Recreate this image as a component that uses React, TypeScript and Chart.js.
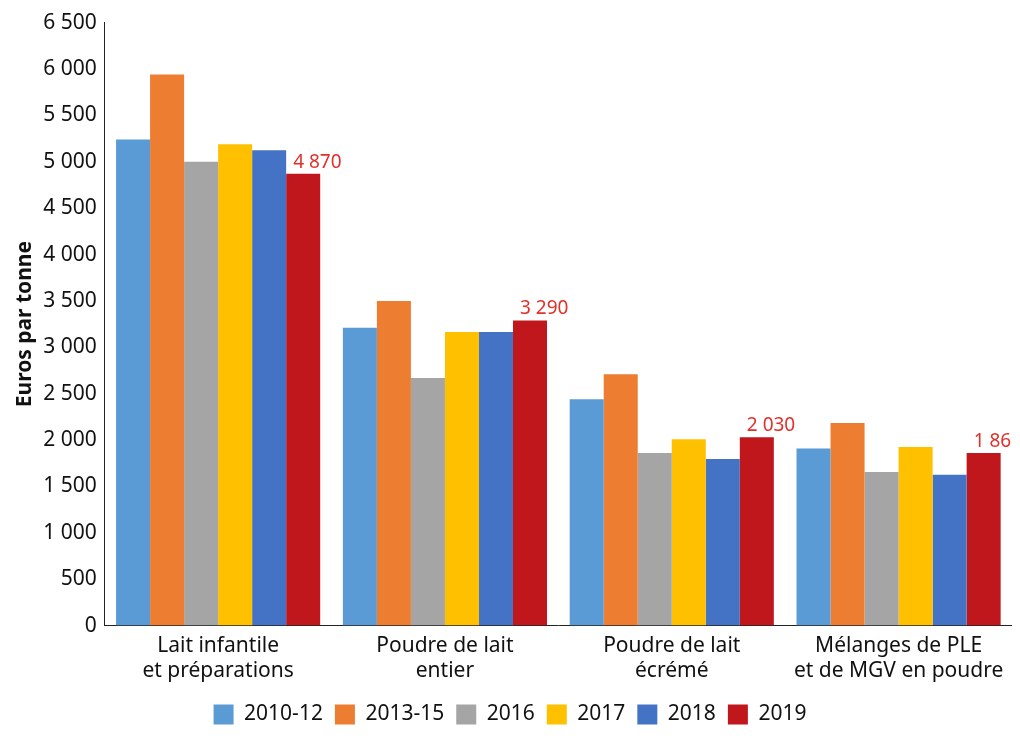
import React, { useEffect, useRef } from "react";
import { Chart, registerables } from "chart.js";
Chart.register(...registerables);

const categories = [["Lait infantile", "et préparations"], ["Poudre de lait", "entier"], ["Poudre de lait", "écrémé"], ["Mélanges de PLE", "et de MGV en poudre"]];
const seriesNames = ["2010-12", "2013-15", "2016", "2017", "2018", "2019"];
const colors = ["#5B9BD5", "#ED7D31", "#A5A5A5", "#FFC000", "#4472C4", "#C0171C"];
const v2010_12 = [5240, 3210, 2440, 1910];
const v2013_15 = [5940, 3500, 2710, 2185];
const v2016 = [5000, 2670, 1860, 1655];
const v2017 = [5190, 3165, 2010, 1925];
const v2018 = [5125, 3165, 1795, 1625];
const v2019 = [4870, 3290, 2030, 1860];
const values = [v2010_12, v2013_15, v2016, v2017, v2018, v2019];

const fmt = (n: number) => String(n).replace(/\B(?=(\d{3})+(?!\d))/g, " ");

const labelPlugin = {
  id: "lastLabels",
  afterDatasetsDraw(chart: any) {
    const ctx = chart.ctx;
    const meta = chart.getDatasetMeta(5);
    ctx.save();
    ctx.fillStyle = "#E0312B";
    ctx.font = "19px 'Noto Sans', sans-serif";
    ctx.textAlign = "left";
    ctx.textBaseline = "bottom";
    meta.data.forEach((b: any, i: number) => {
      ctx.fillText(fmt(v2019[i]), b.x - 10, b.y - 2);
    });
    ctx.restore();
  },
};

export default function App() {
  const ref = useRef<HTMLCanvasElement>(null);
  useEffect(() => {
    const chart = new Chart(ref.current!, {
      type: "bar",
      data: {
        labels: categories,
        datasets: seriesNames.map((n, i) => ({ label: n, data: values[i], backgroundColor: colors[i], barPercentage: 1, categoryPercentage: 0.9 })),
      },
      options: {
        animation: false,
        responsive: false,
        layout: { padding: { top: 8, right: 0 } },
        plugins: {
          legend: {
            position: "bottom",
            labels: { boxWidth: 20, boxHeight: 20, padding: 12, color: "#111", font: { size: 21, family: "'Noto Sans', sans-serif" } },
          },
          tooltip: { enabled: false },
        },
        scales: {
          x: {
            grid: { display: false, drawTicks: false },
            border: { display: true, color: "#222" },
            ticks: { color: "#111", padding: 8, font: { size: 21, family: "'Noto Sans', sans-serif" } },
          },
          y: {
            min: 0, max: 6500,
            grid: { display: false, drawTicks: true, tickLength: 6, tickColor: "#222" },
            border: { display: true, color: "#222" },
            ticks: { stepSize: 500, color: "#111", padding: 2, font: { size: 21, family: "'Noto Sans', sans-serif" }, callback: (v: any) => fmt(v) },
            title: { display: true, text: "Euros par tonne", color: "#111", font: { size: 21, weight: "bold", family: "'Noto Sans', sans-serif" } },
          },
        },
      },
      plugins: [labelPlugin],
    });
    return () => chart.destroy();
  }, []);
  return <canvas ref={ref} width={1004} height={727} />;
}
